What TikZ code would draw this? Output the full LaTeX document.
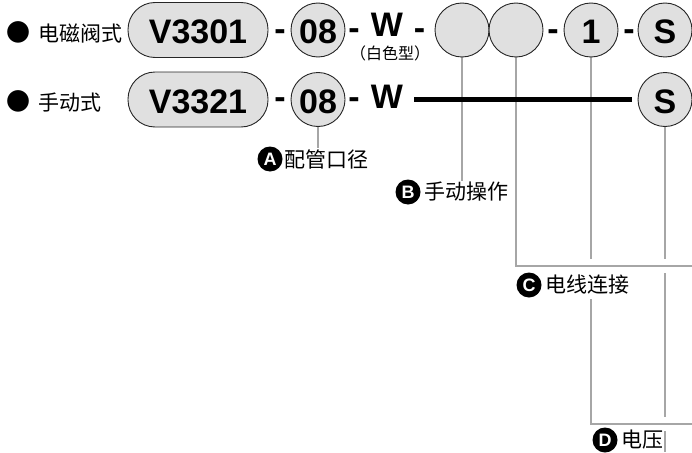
\documentclass[tikz,border=0pt]{standalone}
\usepackage{fontspec}
\setmainfont{Liberation Sans}
\newfontfamily\zhfont{Noto Sans CJK SC}
\usetikzlibrary{positioning, backgrounds}

\newcommand{\dotmark}{{\fontsize{24}{24}\selectfont ●}\hspace{8pt}}

\begin{document}
\begin{tikzpicture}[
    x=1pt, y=-1pt,
    big/.style={font=\fontsize{34}{34}\selectfont\bfseries, inner sep=0pt},
    pill/.style={big, text height=28pt, draw=black!85, line width=0.9pt, fill=black!12, rounded corners=27pt, minimum width=140pt, minimum height=55pt},
    code/.style={big, text height=28pt, draw=black!85, line width=0.9pt, fill=black!12, circle, minimum size=54pt},
    hyph/.style={big, anchor=base},
    zh/.style={font=\zhfont\fontsize{21}{21}\selectfont, inner sep=1pt},
    badge/.style={circle, fill=black, text=white, inner sep=0pt, minimum size=25pt, font=\fontsize{18}{18}\selectfont\bfseries},
    lead/.style={draw=black!35, line width=2.7pt},
    bridge/.style={lead, preaction={draw=white, line width=14pt}},
    bar/.style={draw=black, line width=5.5pt}
]
\useasboundingbox (0,0) rectangle (692,452);
\node[zh, anchor=west] (sol) at (5,32) {\dotmark 电磁阀式};
\node[pill] (v1) at (198,30) {V3301};
\node[hyph] (h11) at (280,41) {-};
\node[code] (o8a) at (318,30) {08};
\node[hyph] (h12) at (354,40) {-};
\node[hyph] (w1) at (387,37) {W};
\node[hyph] (h13) at (419.5,39.5) {-};
\node[code] (b1) at (462,30) {};
\node[code] (b2) at (516,30) {};
\node[hyph] (h14) at (553,41) {-};
\node[code] (n1) at (591,30) {1};
\node[hyph] (h15) at (629,41) {-};
\node[code] (s1) at (665,30) {S};
\node[font=\zhfont\fontsize{16}{16}\selectfont, inner sep=0pt] (white) at (390,53) {（白色型）};

\node[zh, anchor=west] (man) at (5,101.5) {\dotmark 手动式};
\node[pill] (v2) at (198,99.5) {V3321};
\node[hyph] (h21) at (280,108.5) {-};
\node[code] (o8b) at (318,99.5) {08};
\node[hyph] (h22) at (354,108.5) {-};
\node[hyph] (w2) at (387,108) {W};
\node[code] (s2) at (665,99.5) {S};

\node[badge] (bA) at (270,159) {A};
\node[zh, right=1pt of bA] (tA) {配管口径};
\node[badge] (bB) at (408,192) {B};
\node[zh, right=3pt of bB] (tB) {手动操作};
\node[badge] (bC) at (529,285) {C};
\node[zh, fill=white, inner ysep=4pt, right=3pt of bC] (tC) {电线连接};
\node[badge] (bD) at (605,440) {D};
\node[zh, right=3pt of bD] (tD) {电压};

\coordinate (cEnd) at (692,266);
\coordinate (dEnd) at (692,424);
\coordinate (bot) at (665,452);

\begin{scope}[on background layer]
\draw[lead] (s2.south) -- (bot);
\draw[bridge] (n1.south) |- (dEnd);
\draw[bridge] (b2.south) |- (cEnd);
\draw[lead] (b1.south) -- (b1.south |- tB.north);
\draw[lead] (o8b.south) -- (o8b.south |- tA.north);
\end{scope}
\draw[bar, shorten <=11pt, shorten >=6pt] (w2.east |- s2.west) -- (s2.west);
\end{tikzpicture}
\end{document}
